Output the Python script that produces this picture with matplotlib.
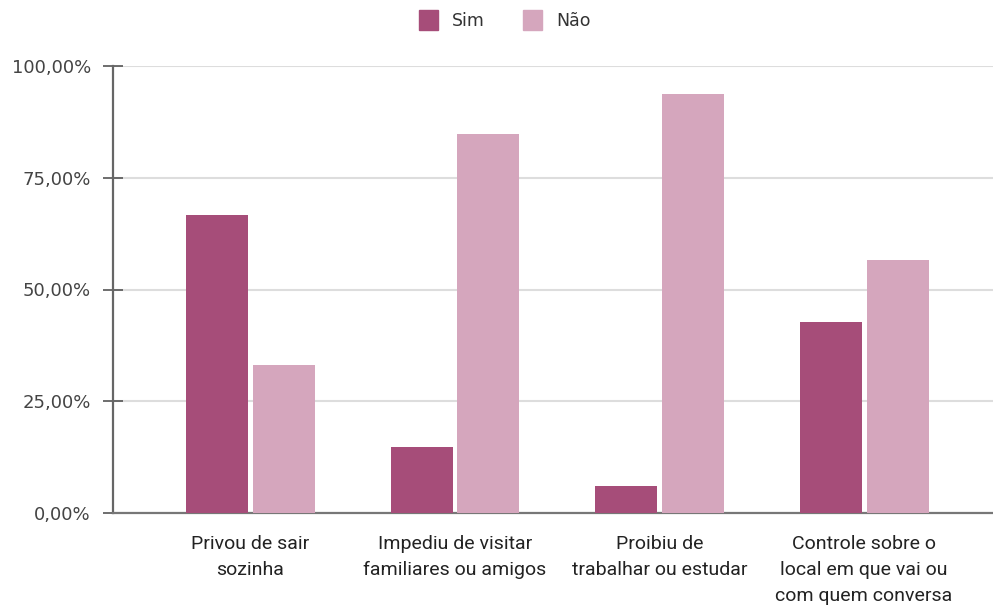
import numpy as np
import matplotlib.pyplot as plt
from matplotlib.patches import Patch

categories = ['Privou de sair\nsozinha',
              'Impediu de visitar\nfamiliares ou amigos',
              'Proibiu de\ntrabalhar ou estudar',
              'Controle sobre o\nlocal em que vai ou\ncom quem conversa']
sim = [66.7, 14.7, 6.0, 42.7]
nao = [33.0, 84.8, 93.8, 56.6]
yticks = [0, 25, 50, 75, 100]
ytick_labels = ['0,00%', '25,00%', '50,00%', '75,00%', '100,00%']

c_sim = '#a64d79'
c_nao = '#d5a6bd'

fig = plt.figure(figsize=(9.93, 6.07), dpi=100)
ax = fig.add_axes([113/993, 1 - 513/607, 1 - 113/993, (513 - 66)/607])

x = np.arange(len(categories))
w = 0.303
ax.bar(x - 0.161, sim, w, color=c_sim, zorder=3)
ax.bar(x + 0.164, nao, w, color=c_nao, zorder=3)

ax.set_xlim(-0.67, 3.63)
ax.set_ylim(0, 100)
ax.set_yticks(yticks)
ax.set_yticklabels(ytick_labels, fontsize=13, color='#444444')
ax.set_xticks(x)
ax.set_xticklabels(categories, fontsize=14, color='#222222',
                   family=['Roboto', 'DejaVu Sans'],
                   linespacing=1.55)
ax.tick_params(axis='x', length=0, pad=16)
ax.tick_params(axis='y', direction='inout', length=14, width=1.2,
               color='#555555', pad=9)

ax.grid(axis='y', color='#dddddd', linewidth=1.5, zorder=0)
for s in ['top', 'right']:
    ax.spines[s].set_visible(False)
ax.spines['left'].set_color('#666666')
ax.spines['left'].set_linewidth(1.6)
ax.spines['bottom'].set_color('#777777')
ax.spines['bottom'].set_linewidth(1.6)

handles = [Patch(color=c_sim, label='Sim'), Patch(color=c_nao, label='Não')]
fig.legend(handles=handles, loc='center', bbox_to_anchor=(505/993, 1 - 20/607),
           ncol=2, frameon=False, fontsize=12.5, handlelength=1.1,
           handleheight=1.4, columnspacing=2.2, handletextpad=0.8,
           labelcolor='#333333')

fig.savefig('out.png', dpi=100)
